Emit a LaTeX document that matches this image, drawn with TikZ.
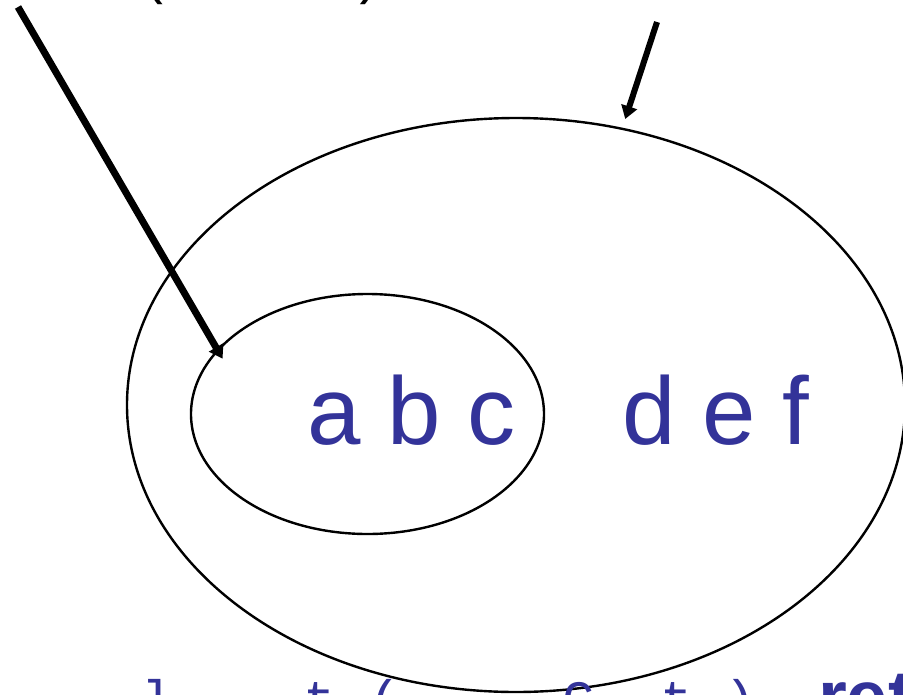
\documentclass[tikz,border=0pt]{standalone}
\usepackage{fontspec}
\setmainfont{Liberation Sans}
\setmonofont{Liberation Mono}
\usepackage{xcolor}
\usepackage{tikz}
\usetikzlibrary{arrows.meta,positioning,shapes.geometric}
\definecolor{slideblue}{RGB}{51,51,153}
\tikzset{
  ring/.style={ellipse,draw=black,line width=2.4pt,inner sep=0pt,outer sep=0pt},
  big/.style={text=slideblue,inner sep=0pt,anchor=base west,
              font=\fontsize{96}{110}\selectfont},
  code/.style={text=slideblue,inner sep=0pt,anchor=base west,
               font=\fontsize{54}{60}\selectfont\ttfamily},
  kw/.style={text=slideblue,inner sep=0pt,anchor=base west,
             font=\fontsize{74}{80}\selectfont\bfseries},
  arr/.style={-{Triangle[length=13pt,width=16pt]},line width=#1,color=black},
  arr/.default=6pt,
}

\begin{document}
\begin{tikzpicture}[x=1pt,y=-1pt]
  \useasboundingbox (0,0) rectangle (903,694);
  \clip (0,0) rectangle (903,694);

  % --- the two sets ---
  \node[ring,minimum width=778pt,minimum height=574pt] (outer) at (516,405) {};
  \node[ring,minimum width=353pt,minimum height=240pt] (inner) at (367.5,414) {};

  \node[big] (abc) at (307,444) {a b c};
  \node[big] (def) at (622,444) {d e f};

  % --- labels cut at the edges ---
  \node[code,text=black] (cap) at (139,-7) {(\hspace*{180pt})};
  \node[code] (call) at (141.5,718) {l\ \ \ \ t\ (\ \ \ \ \ C\ \ t\ )};
  \node[kw] (ret) at (818,722) {returns};

  % --- pointers ---
  \coordinate (src1) at (18,7);
  \coordinate (src2) at (657,22);
  \draw[arr=7pt,shorten >=-9.5pt] (src1) -- (inner.157);
  \draw[arr,shorten >=10.4pt] (src2) -- (outer.69.2);
\end{tikzpicture}
\end{document}
